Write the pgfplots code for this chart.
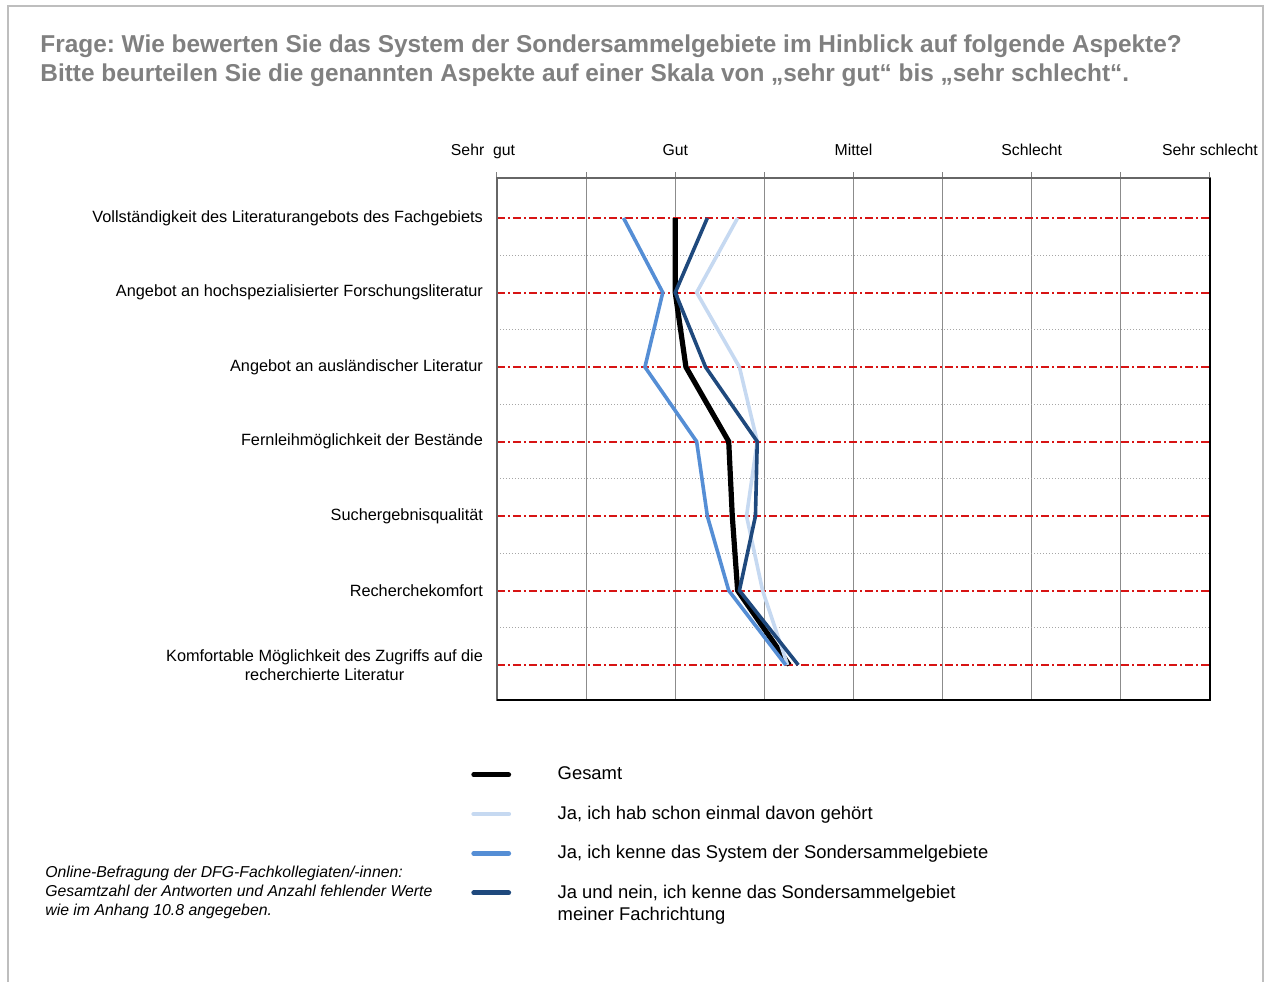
\documentclass[border=0pt]{standalone}
\usepackage{pgfplots}
\pgfplotsset{compat=1.18}
\usepackage{fontspec}
\setmainfont{Liberation Sans}
\frenchspacing
\definecolor{clight}{RGB}{198,217,241}
\definecolor{cmed}{RGB}{85,142,213}
\definecolor{cdark}{RGB}{31,73,125}
\definecolor{titlegray}{RGB}{128,128,128}
\definecolor{framegray}{RGB}{190,190,190}
\definecolor{refred}{RGB}{215,20,20}
\pgfplotsset{
  mylegend/.style={legend image code/.code={\draw[##1, line width=2.4pt, line cap=round] (1pt,0pt) -- (18.5pt,0pt); \path[draw=none] (0pt,0pt) -- (41pt,0pt);}},
  mylegendshift/.style={legend image code/.code={\draw[##1, line width=2.4pt, line cap=round] (1pt,5.5pt) -- (18.5pt,5.5pt); \path[draw=none] (0pt,0pt) -- (41pt,0pt);}},
}

\begin{document}
\begin{tikzpicture}
\useasboundingbox (0,0) rectangle (632.5pt,-490.5pt);
\draw[framegray, line width=1.2pt] (4pt,-495pt) -- (4pt,-3pt) -- (631.5pt,-3pt) -- (631.5pt,-495pt);
\node[anchor=north west, align=left, text=titlegray, inner sep=0pt,
      font=\bfseries\fontsize{12.2}{14.5}\selectfont] at (20pt,-17pt)
 {Frage: Wie bewerten Sie das System der Sondersammelgebiete im Hinblick auf folgende Aspekte?\\
  Bitte beurteilen Sie die genannten Aspekte auf einer Skala von „sehr gut“ bis „sehr schlecht“.};
\node[anchor=north west, align=left, inner sep=0pt,
      font=\itshape\fontsize{7.9}{9.5}\selectfont] at (22.5pt,-433pt)
 {Online-Befragung der DFG-Fachkollegiaten/-innen:\\
  Gesamtzahl der Antworten und Anzahl fehlender Werte\\
  wie im Anhang 10.8 angegeben.};
\begin{axis}[
  at={(248.5pt,-350pt)}, anchor=south west,
  scale only axis, width=356.5pt, height=261pt,
  xmin=1, xmax=5, ymin=-0.537, ymax=6.47, y dir=reverse,
  xtick={1,2,3,4,5}, minor xtick={1.5,2.5,3.5,4.5},
  xticklabels={{Sehr\ \ gut\hspace*{14pt}},Gut,Mittel,Schlecht,Sehr schlecht},
  xtick pos=right, xticklabel pos=right,
  xticklabel style={font=\fontsize{7.9}{9}\selectfont, yshift=2.5pt, text height=1.6ex, text depth=0.4ex},
  ytick={0,1,2,3,4,5,6}, minor ytick={0.5,1.5,2.5,3.5,4.5,5.5},
  yticklabels={Vollständigkeit des Literaturangebots des Fachgebiets,
    Angebot an hochspezialisierter Forschungsliteratur,
    Angebot an ausländischer Literatur,
    Fernleihmöglichkeit der Bestände,
    Suchergebnisqualität,
    Recherchekomfort,
    {Komfortable Möglichkeit des Zugriffs auf die\\recherchierte Literatur}},
  yticklabel style={font=\fontsize{8.15}{9.5}\selectfont, align=center, xshift=-0.5pt},
  ytick style={draw=none},
  tick align=outside,
  major tick length=3pt, minor tick length=3pt,
  xtick style={gray, line width=0.5pt},
  xmajorgrids, xminorgrids, ymajorgrids, yminorgrids,
  major x grid style={gray!90, line width=0.6pt},
  minor x grid style={gray!90, line width=0.6pt},
  major y grid style={refred, line width=1pt, dash pattern=on 4pt off 1.5pt on 1pt off 1.5pt},
  minor y grid style={gray!70, line width=0.5pt, densely dotted},
  axis line style={gray!80!black, line width=0.7pt},
  clip=false,
  legend cell align=left,
  legend style={draw=none, fill=none, at={(axis description cs:-0.045,-0.112)}, anchor=north west,
    font=\fontsize{9.2}{11}\selectfont, cells={align=left}, row sep=7.55pt,
    nodes={inner ysep=2pt}},
  mylegend,
]
\addplot[black, line width=2.6pt] coordinates {(2.00,0) (2.00,1) (2.06,2) (2.30,3) (2.32,4) (2.35,5) (2.64,6)};
\addlegendentry{Gesamt}
\addplot[clight, line width=1.8pt] coordinates {(2.35,0) (2.12,1) (2.36,2) (2.46,3) (2.40,4) (2.49,5) (2.63,6)};
\addlegendentry{Ja, ich hab schon einmal davon gehört}
\addplot[cmed, line width=1.8pt] coordinates {(1.71,0) (1.93,1) (1.83,2) (2.12,3) (2.18,4) (2.30,5) (2.62,6)};
\addlegendentry{Ja, ich kenne das System der Sondersammelgebiete}
\addplot[cdark, line width=1.8pt, mylegendshift]
  coordinates {(2.18,0) (2.00,1) (2.17,2) (2.46,3) (2.45,4) (2.36,5) (2.69,6)};
\addlegendentry{Ja und nein, ich kenne das Sondersammelgebiet\\meiner Fachrichtung}
\draw[black, line width=0.8pt] (axis cs:1,6.47) -- (axis cs:5,6.47) -- (axis cs:5,-0.537);
\end{axis}
\end{tikzpicture}
\end{document}
